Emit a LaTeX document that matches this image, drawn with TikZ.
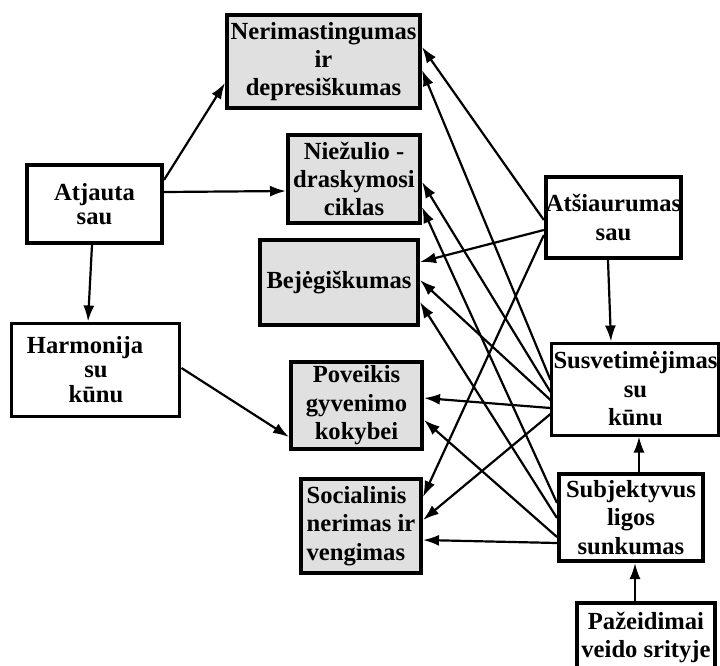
\documentclass[tikz,border=0pt]{standalone}
\usepackage{fontspec}
\setmainfont{Liberation Serif}
\usetikzlibrary{calc,arrows.meta}
\pgfdeclarelayer{background}
\pgfsetlayers{background,main}

\tikzset{
  box/.style={draw=black, line width=2pt, fill=white, align=center, inner sep=0pt,
    font=\fontsize{12.3}{14.2}\selectfont\bfseries},
  greybox/.style={box, fill=black!12},
  thinbox/.style={box, line width=1.5pt},
  arr/.style={line width=1.1pt, -{Latex[length=8pt,width=5.5pt]}}
}

\begin{document}
\begin{tikzpicture}[x=0.5pt,y=-0.5pt]
\useasboundingbox (0,0) rectangle (720,666);

% left column
\node[box, minimum width=67.5pt, minimum height=39pt] (atj) at (94.5,204) {Atjauta\\[-2pt]sau};
\node[thinbox, minimum width=84pt, minimum height=46.5pt] (harm) at (96,369.5) {Harmonija\hspace*{11pt}\\[-1.8pt]su\\[-1.8pt]kūnu};

% middle column
\node[greybox, minimum width=96.5pt, minimum height=46.5pt] (nerim) at (323.5,61.5) {Nerimastingumas\\ir\\depresiškumas};
\node[greybox, minimum width=66pt, minimum height=44pt] (niez) at (354,179) {Niežulio -\\draskymosi\\ciklas};
\node[greybox, minimum width=79pt, minimum height=42.5pt] (bejeg) at (339,282.5) {Bejėgiškumas};
\node[greybox, minimum width=65.5pt, minimum height=43.5pt] (pov) at (356.5,405.5) {Poveikis\\gyvenimo\\kokybei};
\node[greybox, minimum width=60pt, minimum height=47pt, align=left] (soc) at (361,526) {Socialinis\\nerimas ir\\vengimas};

% right column
\node[box, minimum width=65.5pt, minimum height=40.5pt] (atsi) at (613.5,217.5) {Atšiaurumas\\sau};
\node[thinbox, minimum width=83.5pt, minimum height=46pt] (susv) at (635.5,389) {Susvetimėjimas\\su\\kūnu};
\node[box, minimum width=72pt, minimum height=43.5pt] (subj) at (631,517.5) {Subjektyvus\\ligos\\sunkumas};
\node[box, minimum width=69pt, minimum height=34.5pt] (paz) at (646,637.5) {Pažeidimai\\veido srityje};

\begin{pgfonlayer}{background}
\draw[arr] ($(atj.east)+(0,-24)$) -- ($(nerim.west)+(0,21.5)$);
\draw[arr] ($(atj.east)+(0,-12)$) -- ($(niez.west)+(0,12)$);
\draw[arr] ($(atj.south)+(-2.5,0)$) -- ($(harm.north)+(-8,0)$);
\draw[arr] ($(harm.east)+(0,-1.5)$) -- ($(pov.west)+(0,31.5)$);

\draw[arr] ($(atsi.south)+(-5.5,0)$) -- ($(susv.north)+(-24.5,0)$);
\draw[arr] ($(subj.north)+(8,0)$) -- ($(susv.south)+(3.5,0)$);
\draw[arr] ($(paz.north)+(-11,0)$) -- ($(subj.south)+(4,0)$);

\draw[arr] ($(atsi.west)+(0,2.5)$) -- ($(nerim.east)+(0,-14.5)$);
\draw[arr] ($(atsi.west)+(0,12.5)$) -- ($(bejeg.east)+(0,-20.5)$);
\draw[arr] ($(atsi.west)+(0,17.5)$) -- ($(soc.east)+(0,-29)$);

\draw[arr] ($(susv.west)+(0,-9)$) -- ($(nerim.east)+(0,8.5)$);
\draw[arr] ($(susv.west)+(0,3)$) -- ($(niez.east)+(0,3)$);
\draw[arr] ($(susv.west)+(0,11)$) -- ($(bejeg.east)+(0,-2.5)$);
\draw[arr] ($(susv.west)+(0,19)$) -- ($(pov.east)+(0,-7.5)$);
\draw[arr] ($(susv.west)+(0,25)$) -- ($(soc.east)+(0,-6)$);

\draw[arr] ($(subj.west)+(0,-14.5)$) -- ($(niez.east)+(0,28)$);
\draw[arr] ($(subj.west)+(0,0.5)$) -- ($(bejeg.east)+(0,19.5)$);
\draw[arr] ($(subj.west)+(0,19.5)$) -- ($(pov.east)+(0,14.5)$);
\draw[arr] ($(subj.west)+(0,25.5)$) -- ($(soc.east)+(0,14)$);
\end{pgfonlayer}
\end{tikzpicture}
\end{document}
